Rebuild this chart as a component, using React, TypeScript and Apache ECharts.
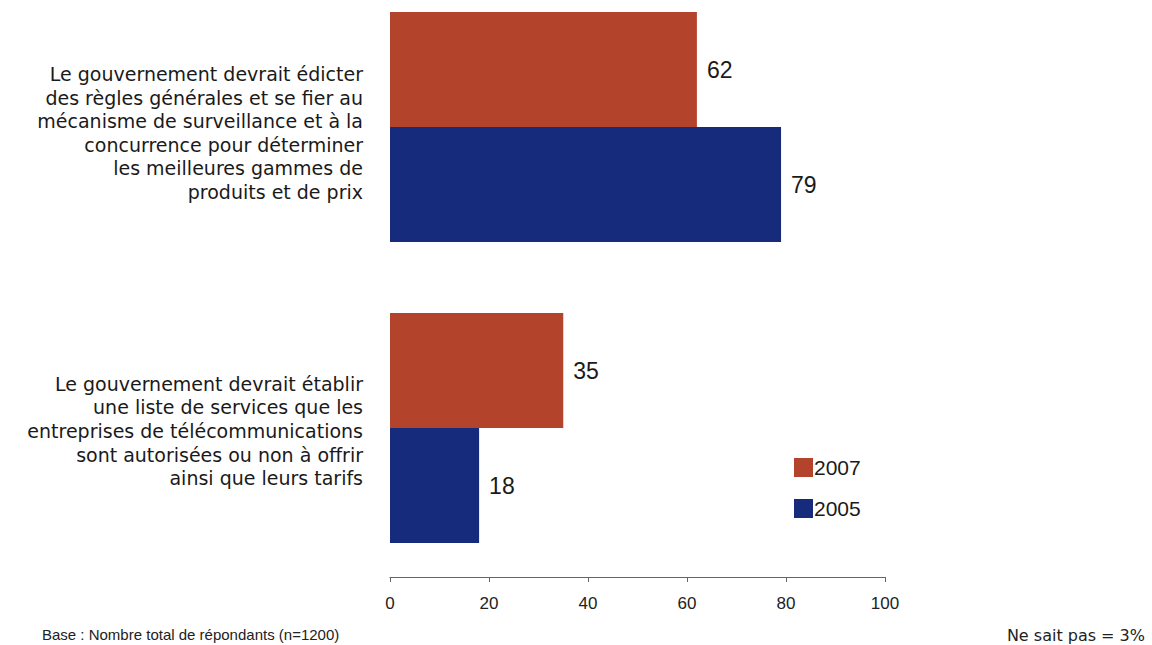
import React, { useEffect, useRef } from "react";
import * as echarts from "echarts";

const categories = [
  "Le gouvernement devrait édicter\ndes règles générales et se fier au\nmécanisme de surveillance et à la\nconcurrence pour déterminer\nles meilleures gammes de\nproduits et de prix",
  "Le gouvernement devrait établir\nune liste de services que les\nentreprises de télécommunications\nsont autorisées ou non à offrir\nainsi que leurs tarifs",
];
const values2007 = [62, 35];
const values2005 = [79, 18];
const xTicks = [0, 20, 40, 60, 80, 100];
const baseNote = "Base : Nombre total de répondants (n=1200)";
const dkNote = "Ne sait pas = 3%";

const FONT = "'Liberation Sans', Arial, sans-serif";
const WIDE = "'DejaVu Sans', 'Liberation Sans', sans-serif";

export default function App() {
  const ref = useRef<HTMLDivElement>(null);
  useEffect(() => {
    document.body.style.margin = "0";
    const chart = echarts.init(ref.current!, null, { renderer: "svg" });
    chart.setOption({
      animation: false,
      backgroundColor: "#ffffff",
      textStyle: { fontFamily: FONT },
      grid: { left: 390, right: 267, top: 127, bottom: 217, containLabel: false },
      legend: {
        orient: "vertical",
        left: 789,
        top: 452,
        itemWidth: 19,
        itemHeight: 19,
        itemGap: 20,
        icon: "rect",
        textStyle: { fontSize: 21, color: "#1a1a1a", fontFamily: FONT, padding: [0, 0, 0, -4] },
        data: ["2007", "2005"],
      },
      xAxis: {
        type: "value",
        min: xTicks[0],
        max: xTicks[xTicks.length - 1],
        interval: 20,
        offset: 149,
        axisLine: { show: true, lineStyle: { color: "#666", width: 1 } },
        axisTick: { show: true, length: 5, lineStyle: { color: "#666" } },
        splitLine: { show: false },
        axisLabel: { fontSize: 17, color: "#222", margin: 18, fontFamily: FONT },
      },
      yAxis: {
        type: "category",
        inverse: true,
        boundaryGap: false,
        data: categories,
        axisLine: { show: false },
        axisTick: { show: false },
        splitLine: { show: false },
        axisLabel: {
          fontSize: 19,
          lineHeight: 23.6,
          color: "#1a1a1a",
          margin: 27,
          align: "right",
          fontFamily: WIDE,
          formatter: (value: string, index: number) =>
            (index === 0 ? "{pa| }\n" : "{pb| }\n") + value,
          rich: {
            pa: { fontSize: 1, lineHeight: 12, height: 12 },
            pb: { fontSize: 1, lineHeight: 6, height: 6 },
          },
        },
      },
      series: [
        {
          name: "2007",
          type: "bar",
          data: values2007,
          barWidth: 115,
          barGap: "0%",
          clip: false,
          itemStyle: { color: "#B4432B" },
          label: { show: true, position: "right", distance: 10, fontSize: 23, color: "#1a1a1a", fontFamily: FONT },
        },
        {
          name: "2005",
          type: "bar",
          data: values2005,
          barWidth: 115,
          barGap: "0%",
          clip: false,
          itemStyle: { color: "#172B7C" },
          label: { show: true, position: "right", distance: 10, fontSize: 23, color: "#1a1a1a", fontFamily: FONT },
        },
      ],
      graphic: [
        {
          type: "text",
          left: 42,
          top: 627,
          style: { text: baseNote, fontSize: 15, fill: "#222", fontFamily: FONT },
        },
        {
          type: "text",
          right: 7,
          top: 627,
          style: { text: dkNote, fontSize: 16, fill: "#222", fontFamily: WIDE },
        },
      ],
    });
    return () => chart.dispose();
  }, []);
  return (
    <div
      ref={ref}
      style={{ position: "fixed", left: 0, top: 0, width: 1152, height: 645, background: "#fff" }}
    />
  );
}
